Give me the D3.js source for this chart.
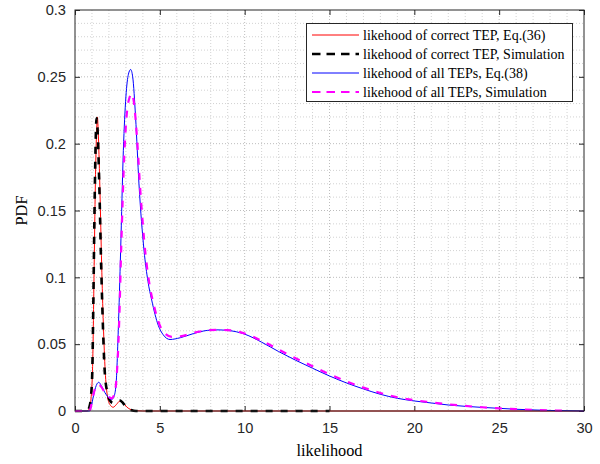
<!DOCTYPE html>
<html><head><meta charset="utf-8">
<script src="https://cdn.jsdelivr.net/npm/d3@7"></script>
<style>
body{margin:0;background:#fff;}
svg{display:block;}
</style></head>
<body><svg id="c" width="600" height="464"></svg>
<script>
// ---- data ----
const xTicks = [0,5,10,15,20,25,30];
const yTicks = [0,0.05,0.1,0.15,0.2,0.25,0.3];
const legendLabels = [
  "likehood of correct TEP, Eq.(36)",
  "likehood of correct TEP, Simulation",
  "likehood of all TEPs, Eq.(38)",
  "likehood of all TEPs, Simulation"
];
const xLabel = "likelihood";
const yLabel = "PDF";

const correctEqX = [0,0.7,0.85,0.95,1.05,1.12,1.2,1.28,1.32,1.38,1.47,1.57,1.67,1.78,1.9,2.05,2.25,2.45,2.65,2.85,3.05,3.3,3.6,4,30];
const correctEqY = [0,0,0.002,0.01,0.04,0.10,0.17,0.212,0.22,0.205,0.165,0.11,0.065,0.03,0.012,0.005,0.0028,0.005,0.0075,0.006,0.003,0.001,0.0002,0,0];

const correctSimX = [0,0.7,0.85,0.95,1.02,1.08,1.14,1.2,1.27,1.33,1.43,1.53,1.63,1.75,1.9,2.05,2.25,2.45,2.62,2.8,3.0,3.3,3.6,15];
const correctSimY = [0,0,0.003,0.012,0.03,0.08,0.14,0.19,0.219,0.21,0.17,0.115,0.07,0.03,0.014,0.008,0.006,0.0072,0.008,0.0065,0.003,0.0008,0,0];

const allEqX = [0,0.85,0.95,1.1,1.25,1.4,1.55,1.75,1.95,2.15,2.3,2.42,2.55,2.69,2.85,3.0,3.15,3.28,3.4,3.57,3.77,4.07,4.3,4.52,4.91,5.2,5.6,6.2,7,7.8,8.35,9,10,11,12,13,14,15,16,17,18,19,20,21,22,23,24,25,26,27,28,29,30];
const allEqY = [0,0,0.003,0.012,0.019,0.0215,0.019,0.014,0.0105,0.0085,0.011,0.02,0.06,0.12,0.195,0.235,0.252,0.2555,0.25,0.22,0.17,0.12,0.097,0.083,0.064,0.057,0.0535,0.0548,0.058,0.0603,0.0607,0.0603,0.0575,0.0515,0.0445,0.038,0.032,0.0262,0.021,0.0165,0.0125,0.0095,0.0075,0.006,0.0045,0.0035,0.0027,0.002,0.0013,0.0008,0.0004,0.0002,0];

const allSimX = [0,0.85,0.95,1.1,1.25,1.4,1.55,1.75,1.95,2.15,2.3,2.45,2.6,2.72,2.9,3.05,3.2,3.35,3.5,3.65,3.85,4.15,4.4,4.65,5.0,5.3,5.7,6.2,7,7.8,8.35,9,10,11,12,13,14,15,16,17,18,19,20,21,22,23,24,25,26,27,28,29];
const allSimY = [0,0,0.004,0.013,0.019,0.02,0.018,0.014,0.011,0.0095,0.012,0.025,0.065,0.12,0.19,0.222,0.234,0.2375,0.228,0.205,0.165,0.118,0.094,0.079,0.064,0.058,0.0555,0.0558,0.0585,0.0603,0.0607,0.0605,0.058,0.0525,0.046,0.0395,0.0335,0.0275,0.0222,0.0175,0.0135,0.0103,0.0081,0.0065,0.005,0.0038,0.0028,0.002,0.0014,0.0009,0.0005,0.0002];

const seriesColors = ["#ff0000","#000000","#0000ff","#ff00ff"];

// ---- chart ----
const L=75, R=584, T=10, B=411;
const svg = d3.select("#c");
const x = d3.scaleLinear().domain([0,30]).range([L,R]);
const y = d3.scaleLinear().domain([0,0.3]).range([B,T]);

// grid
const g = svg.append("g");
d3.range(1,30).forEach(v=>{
  g.append("line").attr("x1",x(v)).attr("x2",x(v)).attr("y1",T).attr("y2",B)
   .attr("stroke", v%5===0?"#bdbdbd":"#d2d2d2").attr("stroke-width",1).attr("stroke-dasharray","1,2");
});
d3.range(1,30).forEach(i=>{
  const v=i*0.01;
  g.append("line").attr("x1",L).attr("x2",R).attr("y1",y(v)).attr("y2",y(v))
   .attr("stroke", i%5===0?"#bdbdbd":"#d2d2d2").attr("stroke-width",1).attr("stroke-dasharray","1,2");
});

// axes
const tickLen=5;
const xAx = svg.append("g").attr("transform",`translate(0,${B})`)
  .call(d3.axisBottom(x).tickValues(xTicks).tickSize(-tickLen).tickPadding(12).tickFormat(d3.format("d")));
const yAx = svg.append("g").attr("transform",`translate(${L},0)`)
  .call(d3.axisLeft(y).tickValues(yTicks).tickSize(-tickLen).tickPadding(9).tickFormat(d=>d===0?"0":String(+d.toFixed(2))));
svg.append("g").attr("transform",`translate(0,${T})`)
  .call(d3.axisTop(x).tickValues(xTicks).tickSize(-tickLen).tickFormat(""));
svg.append("g").attr("transform",`translate(${R},0)`)
  .call(d3.axisRight(y).tickValues(yTicks).tickSize(-tickLen).tickFormat(""));
svg.selectAll(".domain").remove();
svg.selectAll(".tick line").attr("stroke","#262626");
[xAx,yAx].forEach(a=>a.selectAll("text").attr("font-family","'Liberation Sans', Arial, sans-serif").attr("font-size","14.6px").attr("fill","#262626"));

// curves
const line = d3.line().x(d=>x(d[0])).y(d=>y(d[1])).curve(d3.curveMonotoneX);
const zip=(a,b)=>a.map((v,i)=>[v,b[i]]);
const clipG = svg.append("g");
clipG.append("path").datum(zip(correctEqX,correctEqY)).attr("d",line).attr("fill","none").attr("stroke",seriesColors[0]).attr("stroke-width",1);
clipG.append("path").datum(zip(correctSimX,correctSimY)).attr("d",line).attr("fill","none").attr("stroke",seriesColors[1]).attr("stroke-width",2.6).attr("stroke-dasharray","7,8");
clipG.append("path").datum(zip(allEqX,allEqY)).attr("d",line).attr("fill","none").attr("stroke",seriesColors[2]).attr("stroke-width",1);
clipG.append("path").datum(zip(allSimX,allSimY)).attr("d",line).attr("fill","none").attr("stroke",seriesColors[3]).attr("stroke-width",2.2).attr("stroke-dasharray","7,8");

// frame
svg.append("rect").attr("x",L).attr("y",T).attr("width",R-L).attr("height",B-T)
  .attr("fill","none").attr("stroke","#262626").attr("stroke-width",1);

// labels
svg.append("text").attr("x",(L+R)/2).attr("y",456).attr("text-anchor","middle")
  .attr("font-family","'Liberation Serif', 'Times New Roman', serif").attr("font-size","16.3px").attr("fill","#000").text(xLabel);
svg.append("text").attr("transform",`translate(27,${(T+B)/2}) rotate(-90)`).attr("text-anchor","middle")
  .attr("font-family","'Liberation Serif', 'Times New Roman', serif").attr("font-size","16.3px").attr("fill","#000").text(yLabel);

// legend
const lg = svg.append("g");
lg.append("rect").attr("x",306.5).attr("y",23.5).attr("width",266).attr("height",78)
  .attr("fill","#fff").attr("stroke","#262626").attr("stroke-width",1);
const rowY=[35,54,73,92];
const dashes=[null,"8.5,6",null,"8.5,6"];
const widths=[1,2.6,1,2.2];
legendLabels.forEach((t,i)=>{
  lg.append("line").attr("x1",312).attr("x2",359).attr("y1",rowY[i]).attr("y2",rowY[i])
    .attr("stroke",seriesColors[i]).attr("stroke-width",widths[i]).attr("stroke-dasharray",dashes[i]);
  lg.append("text").attr("x",363).attr("y",rowY[i]+4.8)
    .attr("font-family","'Liberation Serif', 'Times New Roman', serif").attr("font-size","14px").attr("fill","#000").text(t);
});
</script>
</body></html>
